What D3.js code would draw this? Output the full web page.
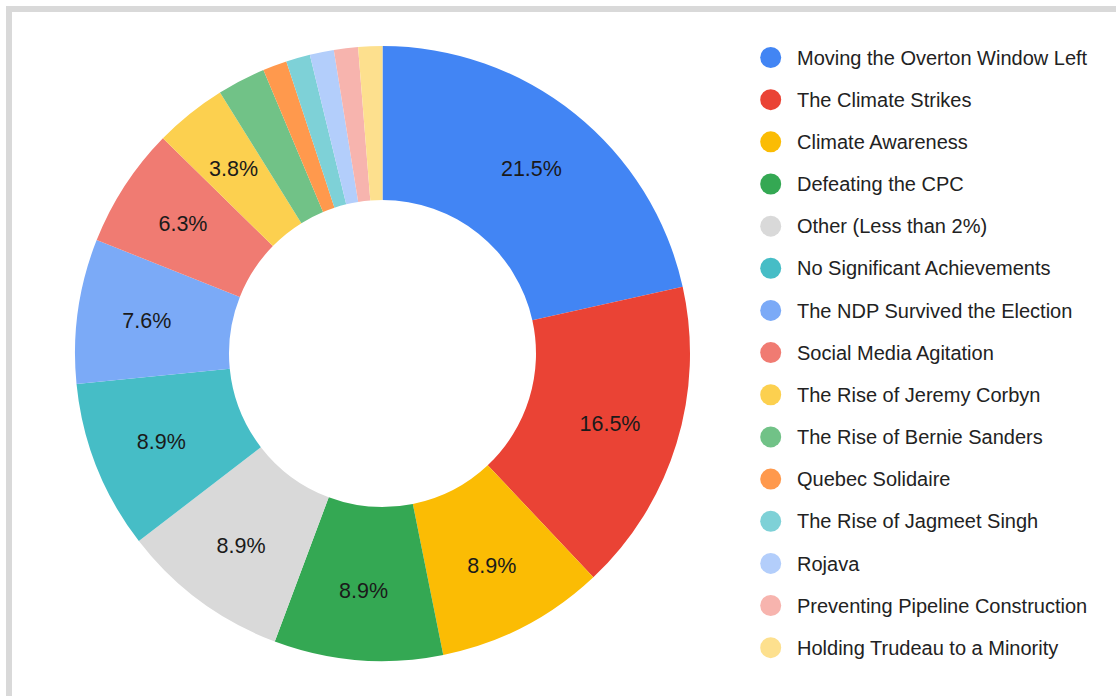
<!DOCTYPE html>
<html>
<head>
<meta charset="utf-8">
<script src="https://cdn.jsdelivr.net/npm/d3@7"></script>
<style>
  html, body { margin: 0; padding: 0; background: #fff; }
  svg { display: block; font-family: Arial, "Liberation Sans", sans-serif; }
</style>
</head>
<body>
<svg id="canvas" width="1116" height="696"></svg>
<script>
const categories = [
  "Moving the Overton Window Left",
  "The Climate Strikes",
  "Climate Awareness",
  "Defeating the CPC",
  "Other (Less than 2%)",
  "No Significant Achievements",
  "The NDP Survived the Election",
  "Social Media Agitation",
  "The Rise of Jeremy Corbyn",
  "The Rise of Bernie Sanders",
  "Quebec Solidaire",
  "The Rise of Jagmeet Singh",
  "Rojava",
  "Preventing Pipeline Construction",
  "Holding Trudeau to a Minority",
];
// response counts (79 total)
const counts = [17, 13, 7, 7, 7, 7, 6, 5, 3, 2, 1, 1, 1, 1, 1];
const colors = [
  "#4285f4", "#ea4335", "#fbbc04", "#34a853", "#d9d9d9",
  "#46bdc6", "#7baaf7", "#f07b72", "#fcd04f", "#71c287",
  "#ff994d", "#7ed1d7", "#b3cefb", "#f7b4ae", "#fde08e",
];

const svg = d3.select("#canvas");
const width = 1116, height = 696;

// frame
svg.append("rect").attr("x", 6).attr("y", 6)
  .attr("width", width).attr("height", height).attr("fill", "#d9d9d9");
svg.append("rect").attr("x", 12).attr("y", 12)
  .attr("width", width).attr("height", height).attr("fill", "#fff");

const cx = 382.5, cy = 353.5;
const outer = 307.5, inner = 153.5;
const total = d3.sum(counts);
const fmt = d3.format(".1%");

const pie = d3.pie().sort(null).value((d) => d);
const arc = d3.arc().innerRadius(inner).outerRadius(outer);
const labelArc = d3.arc().innerRadius(238).outerRadius(238);

const g = svg.append("g").attr("transform", `translate(${cx},${cy})`);
const slices = pie(counts);

g.selectAll("path")
  .data(slices)
  .enter()
  .append("path")
  .attr("d", arc)
  .attr("fill", (d, i) => colors[i]);

g.selectAll("text")
  .data(slices.filter((d) => d.value / total >= 0.03))
  .enter()
  .append("text")
  .attr("transform", (d) => `translate(${labelArc.centroid(d)})`)
  .attr("text-anchor", "middle")
  .attr("dy", "0.36em")
  .attr("font-size", 21.5)
  .attr("fill", "#1a1a1a")
  .text((d) => fmt(d.value / total));

// legend
const legend = svg.append("g");
const rowY = d3.scalePoint().domain(categories).range([57.5, 647.7]);

legend.selectAll("circle")
  .data(categories)
  .enter()
  .append("circle")
  .attr("cx", 770.7)
  .attr("cy", (d) => rowY(d))
  .attr("r", 10.5)
  .attr("fill", (d, i) => colors[i]);

legend.selectAll("text")
  .data(categories)
  .enter()
  .append("text")
  .attr("x", 797)
  .attr("y", (d) => rowY(d))
  .attr("dy", "0.36em")
  .attr("font-size", 20)
  .attr("fill", "#222")
  .text((d) => d);
</script>
</body>
</html>
